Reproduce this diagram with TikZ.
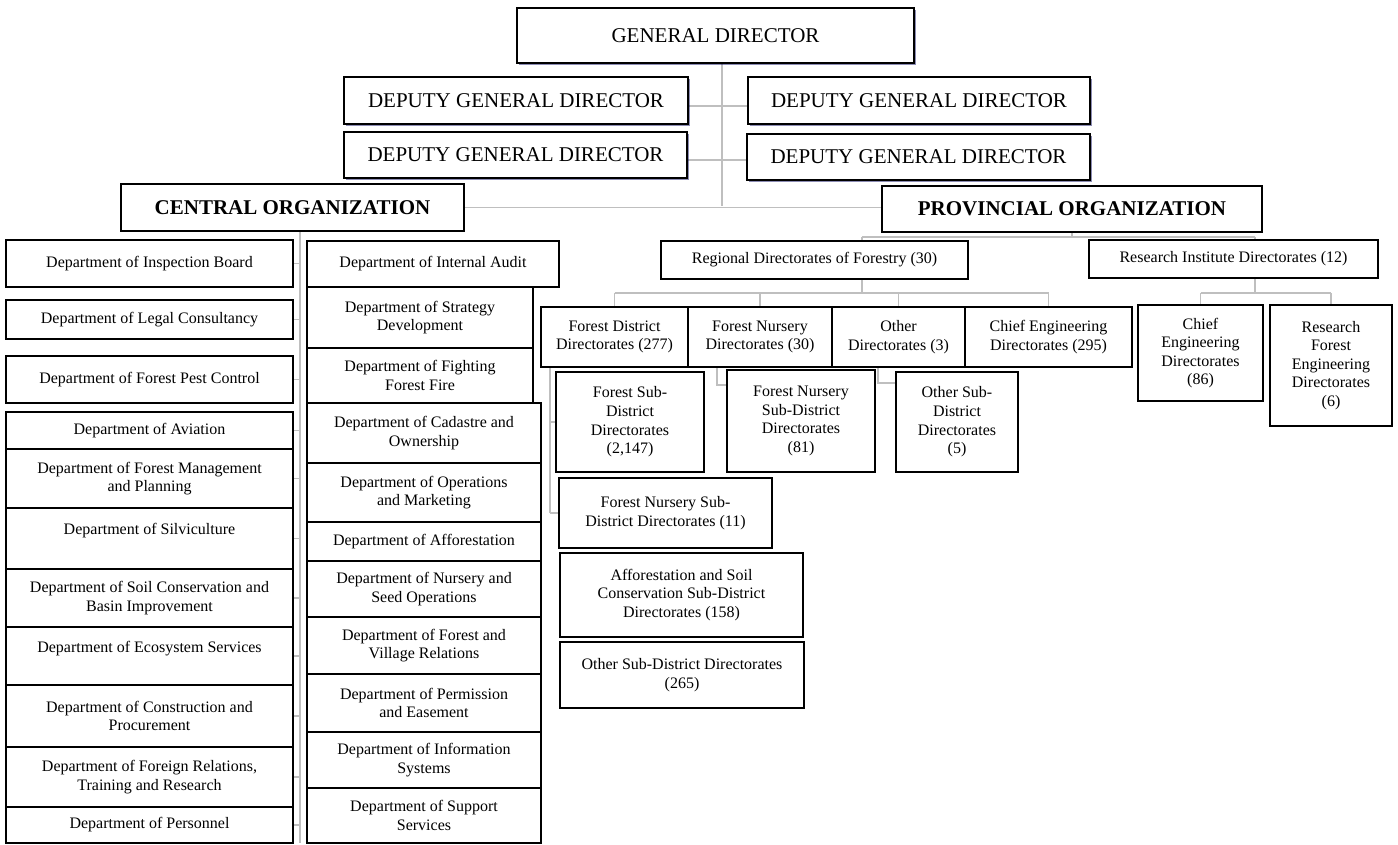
\documentclass[tikz,border=0pt]{standalone}
\usepackage{fontspec}
\setmainfont{Liberation Serif}
\usetikzlibrary{backgrounds,shadows}
\newcommand\myBig{\fontsize{21}{24}\selectfont}
\newcommand\mySmall{\fontsize{16}{18.6}\selectfont}
\newcommand\mybox[7][]{%
  \pgfmathsetmacro\myCX{(#3+#5)/2}%
  \pgfmathsetmacro\myCY{(#4+#6)/2}%
  \pgfmathsetmacro\myW{#5-#3}%
  \pgfmathsetmacro\myH{#6-#4}%
  \node[orgbox,minimum width=\myW pt,minimum height=\myH pt,#1] (#2) at (\myCX,\myCY) {#7};%
}
\tikzset{
  orgbox/.style={draw=black, line width=1.6pt, fill=white, align=center, inner sep=1pt, font=\mySmall},
  topbox/.style={font=\myBig},
  shad/.style={drop shadow={shadow xshift=2pt, shadow yshift=-2pt, fill=blue!35!black, opacity=.45}},
  conn/.style={draw=black!25, line width=1.2pt}
}
\begin{document}
\begin{tikzpicture}[x=1pt,y=-1pt]
\useasboundingbox (0,0) rectangle (1398,845);
\begin{scope}[on background layer]
  \fill[white] (0,0) rectangle (1398,845);
\end{scope}

% top level
\mybox[topbox,shad]{gd}{517}{8}{914}{63}{GENERAL DIRECTOR}
\mybox[topbox,shad]{dl1}{344}{77}{688}{124}{DEPUTY GENERAL DIRECTOR}
\mybox[topbox,shad]{dl2}{344}{132}{687}{178}{DEPUTY GENERAL DIRECTOR}
\mybox[topbox,shad]{dr1}{748}{77}{1090}{124}{DEPUTY GENERAL DIRECTOR}
\mybox[topbox,shad]{dr2}{747}{134}{1090}{180}{DEPUTY GENERAL DIRECTOR}
\mybox[topbox]{central}{121}{184}{464}{231}{\bfseries CENTRAL ORGANIZATION}
\mybox[topbox]{prov}{882}{186}{1262}{232}{\bfseries PROVINCIAL ORGANIZATION}

% central organization, left column
\mybox{d1}{6}{240}{293}{287}{Department of Inspection Board}
\mybox{d2}{6}{300}{293}{339}{Department of Legal Consultancy}
\mybox{d3}{6}{356}{293}{403}{Department of Forest Pest Control}
\mybox{d4}{6}{412}{293}{449}{Department of Aviation}
\mybox{d5}{6}{449}{293}{508}{Department of Forest Management\\and Planning}
\mybox{d6}{6}{508}{293}{569}{Department of Silviculture\\\mbox{}}
\mybox{d7}{6}{569}{293}{627}{Department of Soil Conservation and\\Basin Improvement}
\mybox{d8}{6}{627}{293}{685}{Department of Ecosystem Services\\\mbox{}}
\mybox{d9}{6}{685}{293}{747}{Department of Construction and\\Procurement}
\mybox{d10}{6}{747}{293}{807}{Department of Foreign Relations,\\Training and Research}
\mybox{d11}{6}{807}{293}{843}{Department of Personnel}

% central organization, right column
\mybox{r1}{307}{241}{559}{287}{Department of Internal Audit}
\mybox{r2}{307}{287}{533}{348}{Department of Strategy\\Development}
\mybox{r3}{307}{348}{533}{403}{Department of Fighting\\Forest Fire}
\mybox{r4}{307}{403}{541}{463}{Department of Cadastre and\\Ownership}
\mybox{r5}{307}{463}{541}{522}{Department of Operations\\and Marketing}
\mybox{r6}{307}{522}{541}{561}{Department of Afforestation}
\mybox{r7}{307}{561}{541}{617}{Department of Nursery and\\Seed Operations}
\mybox{r8}{307}{617}{541}{674}{Department of Forest and\\Village Relations}
\mybox{r9}{307}{674}{541}{732}{Department of Permission\\and Easement}
\mybox{r10}{307}{732}{541}{788}{Department of Information\\Systems}
\mybox{r11}{307}{788}{541}{843}{Department of Support\\Services}

% provincial organization
\mybox{reg}{661}{241}{968}{279}{Regional Directorates of Forestry (30)}
\mybox{ri}{1089}{240}{1378}{278}{Research Institute Directorates (12)}
\mybox{fd}{541}{307}{688}{367}{Forest District\\Directorates (277)}
\mybox{fn}{688}{307}{832}{367}{Forest Nursery\\Directorates (30)}
\mybox{od}{832}{307}{965}{367}{Other\\Directorates (3)}
\mybox{ce}{965}{307}{1132}{367}{Chief Engineering\\Directorates (295)}
\mybox{ceb}{1138}{305}{1263}{401}{Chief\\Engineering\\Directorates\\(86)}
\mybox{rfe}{1270}{305}{1392}{426}{Research\\Forest\\Engineering\\Directorates\\(6)}
\mybox{fsd}{556}{372}{704}{472}{Forest Sub-\\District\\Directorates\\(2,147)}
\mybox{fnsd}{727}{370}{875}{472}{Forest Nursery\\Sub-District\\Directorates\\(81)}
\mybox{osd}{896}{372}{1018}{472}{Other Sub-\\District\\Directorates\\(5)}
\mybox{fns}{559}{478}{772}{548}{Forest Nursery Sub-\\District Directorates (11)}
\mybox{aff}{560}{553}{803}{637}{Afforestation and Soil\\Conservation Sub-District\\Directorates (158)}
\mybox{osdb}{560}{642}{804}{708}{Other Sub-District Directorates\\(265)}

% connectors
\coordinate (tb) at (722,206);
\coordinate (h1) at (722,106);
\coordinate (h2) at (722,160);
\coordinate (ct) at (300,843);
\coordinate (pb) at (862,237);
\coordinate (pc) at (1255,237);
\coordinate (rb) at (862,293);
\coordinate (rc) at (1255,293);
\coordinate (ft) at (550,513);
\coordinate (nt) at (717,385);
\coordinate (ot) at (878,383);
\begin{scope}[on background layer]
  \draw[conn] (gd.south -| tb) -- (tb);
  \draw[conn] (h1 -| dl1.east) -- (h1 -| dr1.west);
  \draw[conn] (h2 -| dl2.east) -- (h2 -| dr2.west);
  \draw[conn] (central.east) -- (central.east -| prov.west);
  \draw[conn] (central.south -| ct) -- (ct);
  \foreach \n in {d1,d2,d3,d4,d5,d6,d7,d8,d9,d10,d11}
    \draw[conn] (\n.east) -- (\n.east -| ct);
  \draw[conn] (prov.south |- pb) -- (prov.south);
  \draw[conn] (pb) -- (pc);
  \draw[conn] (pb) -- (rb);
  \draw[conn] (pc) -- (rc);
  \draw[conn] (fd.north |- rb) -- (ce.north |- rb);
  \foreach \n in {fd,fn,od,ce}
    \draw[conn] (\n.north |- rb) -- (\n.north);
  \draw[conn] (ceb.north |- rc) -- (rfe.north |- rc);
  \foreach \n in {ceb,rfe}
    \draw[conn] (\n.north |- rc) -- (\n.north);
  \draw[conn] (fd.south -| ft) -- (ft);
  \draw[conn] (fsd.west -| ft) -- (fsd.west);
  \draw[conn] (fns.west -| ft) -- (fns.west);
  \draw[conn] (fn.south -| nt) -- (nt) -- (nt -| fnsd.west);
  \draw[conn] (od.south -| ot) -- (ot) -- (ot -| osd.west);
\end{scope}
\end{tikzpicture}
\end{document}
